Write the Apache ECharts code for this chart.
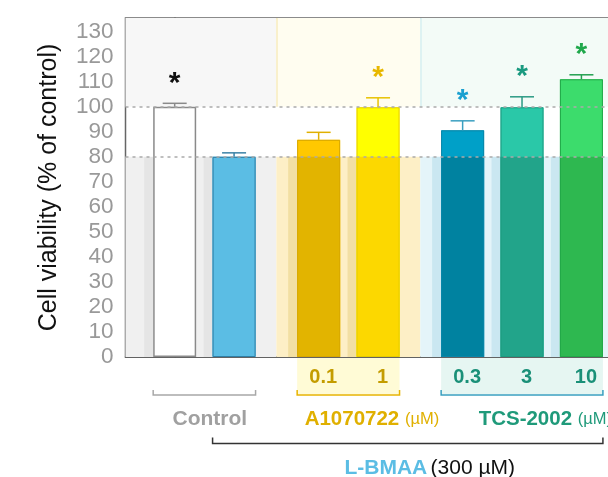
<!DOCTYPE html>
<html>
<head>
<meta charset="utf-8">
<script src="https://cdn.jsdelivr.net/npm/echarts@6/dist/echarts.min.js"></script>
<style>
  html, body { margin: 0; padding: 0; background: #fff; }
  #main { width: 608px; height: 477px; }
</style>
</head>
<body>
<div id="main"></div>
<script>
// bars, left to right
const groupNames = ['Control', 'A1070722', 'TCS-2002']
const barGroup = [0, 0, 1, 1, 2, 2, 2]
const doseLabels = ['', '', '0.1', '1', '0.3', '3', '10']
const viability = [100, 80, 86.8, 99.8, 90.6, 99.8, 111]
const sem = [1.4, 1.6, 3.0, 3.8, 3.8, 4.2, 1.8]
const significant = [true, false, false, true, true, true, true]
const yTicks = [0, 10, 20, 30, 40, 50, 60, 70, 80, 90, 100, 110, 120, 130]
const refLines = [100, 80]

// layout
const FONT = '"Liberation Sans", Arial, sans-serif'
const GROUP_GAP = 0.424
const BAR_W = 43
const Y_MAX = 135.5
const xPos = barGroup.map((g, i) => i + g * GROUP_GAP)
const X_MIN = -0.828
const X_MAX = xPos[xPos.length - 1] + 0.828
const bmaa = viability[1]

// colours
const topColors = ['#ffffff', '#5bbde4', '#ffc800', '#ffff00', '#00a0c8', '#2ac8a8', '#3cdc6c']
const lowColors = ['#ffffff', '#5bbde4', '#e2b400', '#fcd800', '#0082a0', '#22a48a', '#2eb850']
const edgeColors = ['#8a8a8a', '#2f7fa6', '#d8a800', '#e6cc00', '#0a86a8', '#1e9a80', '#22a848']
const errColors = ['#8a8a8a', '#3a82a6', '#e0b000', '#e8c200', '#3a9fc0', '#2a9a84', '#22a050']
const starColors = ['#111111', '', '', '#e8b800', '#1aa0d0', '#1a9a80', '#20a84c']
const zoneLow = ['#f0f0f0', '#fdefc6', '#e4f4f9']
const zoneHigh = ['#f7f7f7', '#fffdf0', '#f3fbf7']
const zoneEdge = ['', '#f7ebbf', '#d6eff0']
const shadowColors = ['rgba(0,0,0,0.045)', 'rgba(205,170,40,0.22)', 'rgba(70,165,200,0.16)']
const groupText = ['#a0a0a0', '#e0b000', '#1f9a7a']
const doseText = ['#a0a0a0', '#c49c00', '#1a9078']
const doseBg = ['', '#fffbd6', '#e6f6f2']
const bracketColors = ['#a8a8a8', '#e8b400', '#3aa0c0']

const bounds = [X_MIN, (xPos[1] + xPos[2]) / 2, (xPos[3] + xPos[4]) / 2, X_MAX]
const zones = []
for (let g = 0; g < 3; g++) {
  zones.push([
    { xAxis: bounds[g], yAxis: 0, itemStyle: { color: zoneLow[g] } },
    { xAxis: bounds[g + 1], yAxis: bmaa }
  ])
  zones.push([
    { xAxis: bounds[g], yAxis: refLines[0], itemStyle: { color: zoneHigh[g] } },
    { xAxis: bounds[g + 1], yAxis: Y_MAX }
  ])
}
// faint zone edges
const edgeLines = []
for (let g = 1; g < 3; g++) {
  edgeLines.push([
    { coord: [bounds[g], refLines[0]], lineStyle: { color: zoneEdge[g], type: 'solid', width: 1.5 } },
    { coord: [bounds[g], Y_MAX] }
  ])
}

const rich = {}
doseText.forEach((c, g) => {
  rich['g' + g] = { color: c, fontWeight: 'bold', fontSize: 20, fontFamily: FONT }
})

const option = {
  animation: false,
  textStyle: { fontFamily: FONT },
  grid: {
    left: 125.5,
    right: -22.6,
    top: 18,
    bottom: 120,
    outerBoundsMode: 'none',
    show: true,
    borderColor: '#666',
    borderWidth: 1.5
  },
  xAxis: {
    type: 'value',
    min: X_MIN,
    max: X_MAX,
    axisLine: { show: true, onZero: false, lineStyle: { color: '#555', width: 1.5 } },
    axisTick: { show: false },
    splitLine: { show: false },
    axisLabel: {
      customValues: xPos.filter((x, i) => doseLabels[i]),
      margin: 10,
      padding: [0, 0, 0, 9],
      formatter: (v) => {
        const i = xPos.findIndex(x => Math.abs(x - v) < 1e-6)
        return i < 0 ? '' : '{g' + barGroup[i] + '|' + doseLabels[i] + '}'
      },
      rich: rich
    }
  },
  yAxis: {
    type: 'value',
    min: 0,
    max: Y_MAX,
    name: 'Cell viability (% of control)',
    nameLocation: 'middle',
    nameGap: 64,
    nameTextStyle: { color: '#111', fontSize: 25, fontFamily: FONT },
    axisLine: { show: true, lineStyle: { color: '#666', width: 1.5 } },
    axisTick: { show: true, length: 6, customValues: yTicks, lineStyle: { color: '#666', width: 1.5 } },
    axisLabel: { customValues: yTicks, color: '#999', fontSize: 22.5, margin: 12 },
    splitLine: { show: false }
  },
  series: [
    {
      // shaded strips behind bars, up to the L-BMAA level
      type: 'custom',
      z: 2,
      silent: true,
      renderItem: (params, api) => {
        const x = api.value(0)
        const p0 = api.coord([x, 0])
        const p1 = api.coord([x, api.value(1)])
        return {
          type: 'rect',
          shape: { x: p0[0] - BAR_W / 2 - 9, y: p1[1], width: BAR_W + 9, height: p0[1] - p1[1] },
          style: { fill: shadowColors[barGroup[params.dataIndex]] }
        }
      },
      data: xPos.map(x => [x, bmaa]),
      markArea: { silent: true, z: 1, data: zones },
      markLine: { silent: true, z: 1, symbol: 'none', label: { show: false }, data: edgeLines }
    },
    {
      type: 'bar',
      z: 3,
      barWidth: BAR_W,
      barGap: '-100%',
      silent: true,
      data: xPos.map((x, i) => ({ value: [x, viability[i]], itemStyle: { color: topColors[i] } }))
    },
    {
      type: 'bar',
      z: 3,
      barWidth: BAR_W,
      barGap: '-100%',
      silent: true,
      data: xPos.map((x, i) => ({ value: [x, Math.min(viability[i], bmaa)], itemStyle: { color: lowColors[i] } }))
    },
    {
      type: 'bar',
      z: 3,
      barWidth: BAR_W,
      barGap: '-100%',
      silent: true,
      data: xPos.map((x, i) => ({
        value: [x, viability[i]],
        itemStyle: { color: 'rgba(0,0,0,0)', borderColor: edgeColors[i], borderWidth: i === 0 ? 1.5 : 1 }
      }))
    },
    {
      // error bars + significance stars
      type: 'custom',
      z: 4,
      silent: true,
      renderItem: (params, api) => {
        const i = params.dataIndex
        const x = api.value(0)
        const v = api.value(1)
        const e = api.value(2)
        const base = api.coord([x, v])
        const top = api.coord([x, v + e])
        const ls = { stroke: errColors[i], lineWidth: 1.5 }
        const children = [
          { type: 'line', shape: { x1: base[0], y1: base[1], x2: top[0], y2: top[1] }, style: ls },
          { type: 'line', shape: { x1: top[0] - 12, y1: top[1], x2: top[0] + 12, y2: top[1] }, style: ls }
        ]
        if (significant[i]) {
          children.push({
            type: 'text',
            x: top[0],
            y: top[1] - 20,
            style: {
              text: '*', fill: starColors[i], fontSize: 30, fontWeight: 'bold', fontFamily: FONT,
              align: 'center', verticalAlign: 'middle'
            }
          })
        }
        return { type: 'group', children: children }
      },
      data: xPos.map((x, i) => [x, viability[i], sem[i]]),
      markLine: {
        silent: true,
        symbol: 'none',
        label: { show: false },
        lineStyle: { color: '#aaa', type: [3, 4], width: 1.5 },
        data: refLines.map(v => ({ yAxis: v }))
      }
    }
  ]
}

const chart = echarts.init(document.getElementById('main'))
chart.setOption(option)

// brackets and group names under the axis
const px = (x, y) => chart.convertToPixel({ gridIndex: 0 }, [x, y])
const axisY = px(0, 0)[1]
const barLeft = i => px(xPos[i], 0)[0] - BAR_W / 2
const barRight = i => px(xPos[i], 0)[0] + BAR_W / 2
const firstOf = g => barGroup.indexOf(g)
const lastOf = g => barGroup.lastIndexOf(g)
const bracket = (x1, x2, y, h, color, w) => ({
  type: 'polyline',
  z: 10,
  silent: true,
  shape: { points: [[x1, y - h], [x1, y], [x2, y], [x2, y - h]] },
  style: { stroke: color, lineWidth: w, fill: null }
})

const graphics = []
for (let g = 0; g < 3; g++) {
  const a = barLeft(firstOf(g))
  const b = barRight(lastOf(g))
  if (doseBg[g]) {
    graphics.push({
      type: 'rect', z: -1, silent: true,
      shape: { x: a, y: axisY + 1, width: b - a, height: 36 },
      style: { fill: doseBg[g] }
    })
  }
  graphics.push(bracket(a, b, axisY + 38, 5, bracketColors[g], 1.5))
}
const c0 = (px(xPos[0], 0)[0] + px(xPos[1], 0)[0]) / 2
graphics.push({
  type: 'text', z: 10, silent: true, x: c0 + 5.5, y: axisY + 62,
  style: { text: groupNames[0], fill: groupText[0], fontSize: 21, fontWeight: 'bold', fontFamily: FONT, align: 'center', verticalAlign: 'middle' }
})
const unitRich = g => ({
  n: { fill: groupText[g], fontSize: 20.5, fontWeight: 'bold', fontFamily: FONT },
  u: { fill: groupText[g], fontSize: 16.5, fontFamily: FONT }
})
graphics.push({
  type: 'text', z: 10, silent: true, x: px(xPos[firstOf(1)], 0)[0] - 14, y: axisY + 62,
  style: { text: '{n|' + groupNames[1] + ' }{u|(µM)}', rich: unitRich(1), align: 'left', verticalAlign: 'middle' }
})
graphics.push({
  type: 'text', z: 10, silent: true, x: px(xPos[firstOf(2)], 0)[0] + 16, y: axisY + 62,
  style: { text: '{n|' + groupNames[2] + ' }{u|(µM)}', rich: unitRich(2), align: 'left', verticalAlign: 'middle' }
})
// L-BMAA treated bars
const lb1 = barLeft(1)
const lb2 = barRight(xPos.length - 1)
graphics.push(bracket(lb1, lb2, axisY + 86.5, 6, '#333', 1.5))
graphics.push({
  type: 'text', z: 10, silent: true, x: (lb1 + lb2) / 2 + 22, y: axisY + 111,
  style: {
    text: '{b|L-BMAA} {r|(300 µM)}',
    rich: {
      b: { fill: '#5bbde4', fontSize: 21, fontWeight: 'bold', fontFamily: FONT },
      r: { fill: '#111', fontSize: 21, fontFamily: FONT }
    },
    align: 'center', verticalAlign: 'middle'
  }
})
chart.setOption({ graphic: graphics })
</script>
</body>
</html>
